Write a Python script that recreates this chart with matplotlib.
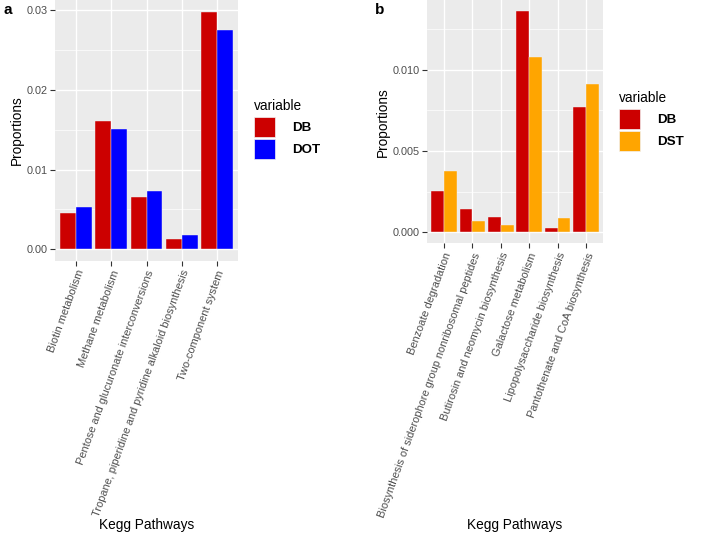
#!/usr/bin/env python3
"""Two-panel grouped bar chart of KEGG pathway proportions (ggplot look)."""

import numpy as np
import matplotlib
matplotlib.use("Agg")
import matplotlib.pyplot as plt
from matplotlib.patches import Rectangle

plt.rcParams["font.family"] = ["Liberation Sans", "DejaVu Sans"]

# Panel a data
pathways_a = ["Biotin metabolism", "Methane metabolism",
              "Pentose and glucuronate interconversions",
              "Tropane, piperidine and pyridine alkaloid biosynthesis",
              "Two-component system"]
db_a = [0.00453, 0.0161, 0.00655, 0.00126, 0.0298]
dot_a = [0.00533, 0.01507, 0.00734, 0.00172, 0.02749]
yticks_a = [0.0, 0.01, 0.02, 0.03]
yminor_a = [0.005, 0.015, 0.025]

# Panel b data
pathways_b = ["Benzoate degradation",
              "Biosynthesis of siderophore group nonribosomal peptides",
              "Butirosin and neomycin biosynthesis",
              "Galactose metabolism",
              "Lipopolysaccharide biosynthesis",
              "Pantothenate and CoA biosynthesis"]
db_b = [0.00256, 0.00144, 0.00094, 0.0136, 0.00025, 0.0077]
dst_b = [0.00376, 0.00068, 0.00045, 0.01076, 0.00088, 0.00909]
yticks_b = [0.0, 0.005, 0.010]
yminor_b = [0.0025, 0.0075, 0.0125]

RED = "#CC0000"
BLUE = "#0000FF"
ORANGE = "#FFA500"

W, H = 708, 534
fig = plt.figure(figsize=(W / 100, H / 100), dpi=100)


def px_axes(left, top, right, bottom):
    return fig.add_axes([left / W, 1 - bottom / H, (right - left) / W, (bottom - top) / H])


def gg_panel(ax, cats, s1, s2, c2, yticks, yminor, fmt):
    x = np.arange(len(cats))
    w = 0.45
    ax.set_facecolor("#EBEBEB")
    for y in yminor:
        ax.axhline(y, color="white", lw=0.5, zorder=0)
    for y in yticks:
        ax.axhline(y, color="white", lw=1.0, zorder=0)
    for xi in x:
        ax.axvline(xi, color="white", lw=1.0, zorder=0)
    ax.bar(x - w / 2, s1, width=w, color=RED, edgecolor="#f2f2f2", lw=0.3, zorder=2)
    ax.bar(x + w / 2, s2, width=w, color=c2, edgecolor="#f2f2f2", lw=0.3, zorder=2)
    top = max(max(s1), max(s2))
    ax.set_ylim(-0.05 * top, 1.05 * top)
    ax.set_xlim(-0.6, len(cats) - 0.4)
    ax.set_yticks(yticks)
    ax.set_yticklabels([fmt.format(v) for v in yticks])
    ax.set_xticks(x)
    ax.set_xticklabels(cats, rotation=70, ha="right", va="top",
                       rotation_mode="anchor", fontsize=7.9, color="#4D4D4D")
    ax.tick_params(axis="y", labelsize=7.8, labelcolor="#4D4D4D",
                   length=3.5, width=0.8, color="#333333", pad=2)
    ax.tick_params(axis="x", length=3.5, width=0.8, color="#333333", pad=2)
    for s in ax.spines.values():
        s.set_visible(False)
    ax.set_ylabel("Proportions", fontsize=9.8, labelpad=1.5)


def legend(x0, ytitle, ykey, c2, name2):
    fig.text(x0 / W, 1 - ytitle / H, "variable", fontsize=9.8, va="center", ha="left")
    for i, (c, lab) in enumerate([(RED, "DB"), (c2, name2)]):
        yt = ykey + i * 22
        fig.patches.append(Rectangle((x0 / W, 1 - (yt + 20) / H), 21 / W, 20 / H,
                                     transform=fig.transFigure, facecolor=c,
                                     edgecolor="#f2f2f2", lw=0.5))
        fig.text((x0 + 38) / W, 1 - (yt + 11) / H, lab, fontsize=9.6,
                 fontweight="bold", va="center", ha="left")


ax_a = px_axes(55, 0, 238, 261)
gg_panel(ax_a, pathways_a, db_a, dot_a, BLUE, yticks_a, yminor_a, "{:.2f}")
ax_b = px_axes(427, 0, 603, 243.4)
gg_panel(ax_b, pathways_b, db_b, dst_b, ORANGE, yticks_b, yminor_b, "{:.3f}")

fig.text(146.5 / W, 1 - 525 / H, "Kegg Pathways", fontsize=9.8, ha="center", va="center")
fig.text(515 / W, 1 - 525 / H, "Kegg Pathways", fontsize=9.8, ha="center", va="center")

legend(254, 106, 117, BLUE, "DOT")
legend(619, 98, 109, ORANGE, "DST")

fig.text(3 / W, 1 - 10 / H, "a", fontsize=11, fontweight="bold", va="center")
fig.text(375 / W, 1 - 10 / H, "b", fontsize=11, fontweight="bold", va="center")

fig.savefig("out.png", dpi=100)
